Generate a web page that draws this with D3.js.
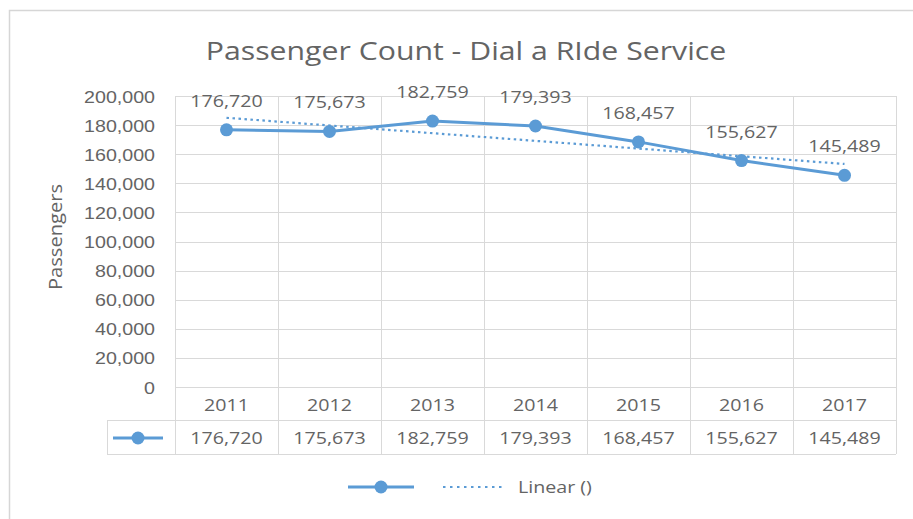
<!DOCTYPE html>
<html>
<head>
<meta charset="utf-8">
<script src="https://cdn.jsdelivr.net/npm/d3@7/dist/d3.min.js"></script>
<style>
  html, body { margin: 0; padding: 0; background: #fff; }
  svg { display: block; font-family: "Open Sans", "Noto Sans", sans-serif; }
</style>
</head>
<body>
<svg id="chart" width="913" height="519"></svg>
<script>
// Annual ridership for the Dial a Ride service
const years = ["2011", "2012", "2013", "2014", "2015", "2016", "2017"];
const passengers = [176720, 175673, 182759, 179393, 168457, 155627, 145489];
const yTicks = [0, 20000, 40000, 60000, 80000, 100000, 120000, 140000, 160000, 180000, 200000];

const title = "Passenger Count - Dial a RIde Service";
const yTitle = "Passengers";
const trendName = "Linear ()";

const blue = "#5b9bd5";
const textCol = "#646464";
const gridCol = "#d9d9d9";
const fs = 16.5;      // body text size
const sx = 1.19;      // horizontal stretch of the text

const svg = d3.select("#chart");

// place a (horizontally stretched) text label
function label(parent, x, y, str, opts = {}) {
  const g = parent.append("g")
    .attr("transform", `translate(${x},${y}) rotate(${opts.rotate || 0}) scale(${opts.sx || sx},1)`);
  g.append("text")
    .attr("text-anchor", opts.anchor || "middle")
    .attr("font-size", opts.size || fs)
    .attr("fill", textCol)
    .text(str);
  return g;
}

// outer chart frame
svg.append("rect")
  .attr("x", 9.5).attr("y", 10.5).attr("width", 920).attr("height", 520)
  .attr("fill", "#fff").attr("stroke", "#d6d6d6").attr("stroke-width", 1.5);

const plot = { left: 175, right: 896, top: 96, bottom: 387 };

const x = d3.scaleBand().domain(years).range([plot.left, plot.right]);
const y = d3.scaleLinear().domain([0, 200000]).range([plot.bottom, plot.top]);
const fmt = d3.format(",");
const cx = i => x(years[i]) + x.bandwidth() / 2;

// title
label(svg, 466, 60, title, { size: 25, sx: 1.21 });

// horizontal gridlines
svg.append("g")
  .selectAll("line")
  .data(yTicks)
  .join("line")
  .attr("x1", plot.left).attr("x2", plot.right)
  .attr("y1", d => Math.round(y(d)) + 0.5).attr("y2", d => Math.round(y(d)) + 0.5)
  .attr("stroke", gridCol).attr("stroke-width", 1);

// vertical category separators running through the data table
const tableRow1 = 420, tableBottom = 454, tableLeft = 107;
const seps = years.map(d => x(d)).concat([plot.right]);
svg.append("g")
  .selectAll("line")
  .data(seps)
  .join("line")
  .attr("x1", d => Math.round(d) + 0.5).attr("x2", d => Math.round(d) + 0.5)
  .attr("y1", plot.top).attr("y2", tableBottom)
  .attr("stroke", gridCol).attr("stroke-width", 1);

// data table horizontal rules
[tableRow1, tableBottom].forEach(yy => {
  svg.append("line")
    .attr("x1", tableLeft).attr("x2", plot.right)
    .attr("y1", yy + 0.5).attr("y2", yy + 0.5)
    .attr("stroke", gridCol);
});
svg.append("line")
  .attr("x1", tableLeft + 0.5).attr("x2", tableLeft + 0.5)
  .attr("y1", tableRow1).attr("y2", tableBottom)
  .attr("stroke", gridCol);

// y axis tick labels
const yAxis = d3.axisLeft(y).tickValues(yTicks).tickFormat(fmt).tickSize(0).tickPadding(0);
const yg = svg.append("g").attr("transform", `translate(${plot.left - 20},0)`).call(yAxis);
yg.select(".domain").remove();
yg.selectAll("text").remove();
yg.selectAll(".tick").each(function (d) {
  label(d3.select(this), 0, 6, fmt(d), { anchor: "end" });
});

// y axis title
label(svg, 62, 237, yTitle, { rotate: -90, size: 19, sx: 1.06 });

// category labels (table header row)
years.forEach((yr, i) => label(svg, cx(i), 411, yr));

// values row of the data table
passengers.forEach((v, i) => label(svg, cx(i), 444, fmt(v)));

// linear trendline (least squares over category index)
const n = passengers.length;
const xs = d3.range(1, n + 1);
const mx = d3.mean(xs), my = d3.mean(passengers);
const slope = d3.sum(xs, (v, i) => (v - mx) * (passengers[i] - my)) / d3.sum(xs, v => (v - mx) ** 2);
const icpt = my - slope * mx;
svg.append("line")
  .attr("x1", cx(0)).attr("y1", y(icpt + slope * 1))
  .attr("x2", cx(n - 1)).attr("y2", y(icpt + slope * n))
  .attr("stroke", blue).attr("stroke-width", 2.2)
  .attr("stroke-dasharray", "2.5,3.5");

// series line
const line = d3.line().x((d, i) => cx(i)).y(d => y(d));
svg.append("path")
  .datum(passengers)
  .attr("d", line)
  .attr("fill", "none")
  .attr("stroke", blue)
  .attr("stroke-width", 3);

svg.append("g")
  .selectAll("circle")
  .data(passengers)
  .join("circle")
  .attr("cx", (d, i) => cx(i)).attr("cy", d => y(d))
  .attr("r", 6.5)
  .attr("fill", blue);

// value labels above points
passengers.forEach((v, i) => label(svg, cx(i), y(v) - 23, fmt(v)));

// series key (line with marker)
function seriesKey(g, x0, x1, yy) {
  g.append("line").attr("x1", x0).attr("x2", x1).attr("y1", yy).attr("y2", yy)
    .attr("stroke", blue).attr("stroke-width", 3);
  g.append("circle").attr("cx", (x0 + x1) / 2).attr("cy", yy).attr("r", 6.5).attr("fill", blue);
}
seriesKey(svg, 113, 163, 438);

// legend below the chart
seriesKey(svg, 348, 414, 487);
svg.append("line")
  .attr("x1", 443).attr("x2", 506).attr("y1", 487).attr("y2", 487)
  .attr("stroke", blue).attr("stroke-width", 2.2).attr("stroke-dasharray", "2.5,4.5");
label(svg, 518, 493, trendName, { anchor: "start" });
</script>
</body>
</html>
